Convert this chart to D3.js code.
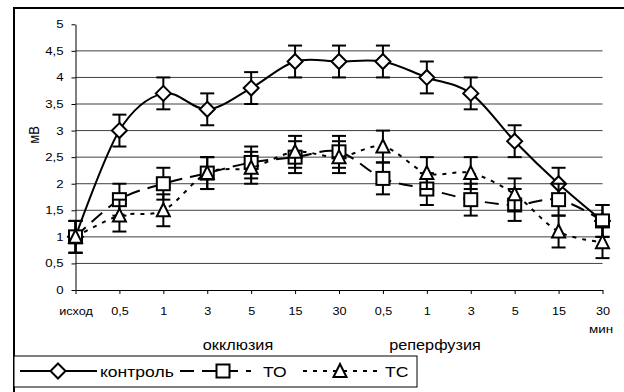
<!DOCTYPE html>
<html>
<head>
<meta charset="utf-8">
<script src="https://cdn.jsdelivr.net/npm/d3@7"></script>
<style>
  body { margin: 0; background: #fff; }
  svg { display: block; }
  text { font-family: "Liberation Sans", Arial, sans-serif; fill: #000; }
</style>
</head>
<body>
<svg id="chart" width="624" height="392"></svg>
<script>
// Time points: baseline, occlusion (min), reperfusion (min)
const categories = ["исход", "0,5", "1", "3", "5", "15", "30", "0,5", "1", "3", "5", "15", "30"];

// Amplitude, mV
const kontrol    = [1.0, 3.0, 3.7, 3.4, 3.8, 4.3, 4.3, 4.3, 4.0, 3.7, 2.8, 2.0, 1.3];
const kontrolErr = [0.3, 0.3, 0.3, 0.3, 0.3, 0.3, 0.3, 0.3, 0.3, 0.3, 0.3, 0.3, 0.3];
const seriesTO   = [1.0, 1.7, 2.0, 2.2, 2.4, 2.5, 2.6, 2.1, 1.9, 1.7, 1.6, 1.7, 1.3];
const errTO      = [0.3, 0.3, 0.3, 0.3, 0.3, 0.3, 0.3, 0.3, 0.3, 0.3, 0.3, 0.3, 0.3];
const seriesTC   = [1.0, 1.4, 1.5, 2.2, 2.3, 2.6, 2.5, 2.7, 2.2, 2.2, 1.8, 1.1, 0.9];
const errTC      = [0.3, 0.3, 0.3, 0.3, 0.3, 0.3, 0.3, 0.3, 0.3, 0.3, 0.3, 0.3, 0.3];

const yTickValues = [0, 0.5, 1, 1.5, 2, 2.5, 3, 3.5, 4, 4.5, 5];
const yTickLabels = ["0", "0,5", "1", "1,5", "2", "2,5", "3", "3,5", "4", "4,5", "5"];
const gridValues  = [0.5, 1, 1.5, 2, 2.5, 3, 3.5, 4, 4.5];

const series = [
  { name: "контроль", values: kontrol,  err: kontrolErr, marker: "diamond",  dash: null },
  { name: "ТО",       values: seriesTO, err: errTO,      marker: "square",   dash: "14,8" },
  { name: "ТС",       values: seriesTC, err: errTC,      marker: "triangle", dash: "4,6" }
];

const svg = d3.select("#chart");

const x = d3.scalePoint()
  .domain(d3.range(categories.length))
  .range([75.5, 602.5])
  .padding(0);

const y = d3.scaleLinear().domain([0, 5]).range([290, 24.3]);

// Text with a slightly wide face, stretched around its anchor point
function label(px, py, str, size, sx, anchor) {
  return svg.append("text")
    .attr("transform", `translate(${px},${py}) scale(${sx},1)`)
    .attr("text-anchor", anchor || "middle")
    .attr("font-size", size)
    .text(str);
}

// Outer frame
svg.append("rect")
  .attr("x", 14).attr("y", 8)
  .attr("width", 700).attr("height", 500)
  .attr("fill", "none").attr("stroke", "#000").attr("stroke-width", 2);

// Gridlines
svg.append("g").selectAll("line")
  .data(gridValues)
  .join("line")
  .attr("x1", x(0)).attr("x2", x(categories.length - 1))
  .attr("y1", d => y(d)).attr("y2", d => y(d))
  .attr("stroke", "#404040").attr("stroke-width", 1);

// Y axis
const yAxis = d3.axisLeft(y)
  .tickValues(yTickValues)
  .tickFormat((d, i) => yTickLabels[i])
  .tickSizeInner(4).tickSizeOuter(0).tickPadding(6);
const gy = svg.append("g").attr("transform", `translate(${x(0)},0)`).call(yAxis);
gy.selectAll("text")
  .attr("font-size", 11)
  .attr("font-family", "Liberation Sans, Arial, sans-serif")
  .attr("transform", "scale(1.2,1)");
gy.selectAll("line, path").attr("stroke", "#000");

// X axis
const xAxis = d3.axisBottom(x)
  .tickFormat(i => categories[i])
  .tickSizeInner(4).tickSizeOuter(0).tickPadding(13);
const gx = svg.append("g").attr("transform", `translate(0,${y(0)})`).call(xAxis);
gx.selectAll("text")
  .attr("font-size", 11)
  .attr("font-family", "Liberation Sans, Arial, sans-serif")
  .attr("transform", "scale(1.15,1)");
gx.selectAll("line, path").attr("stroke", "#000");

// Axis titles
label(238, 350, "окклюзия", 14, 1.16);
label(435, 350, "реперфузия", 14, 1.16);
label(601, 333, "мин", 11, 1.22);
svg.append("text")
  .attr("transform", "translate(39,135) rotate(-90) scale(1,1.15)")
  .attr("text-anchor", "middle").attr("font-size", 13).text("мВ");

// Marker symbols
function drawMarker(g, type, cx, cy) {
  if (type === "diamond") {
    g.append("path")
      .attr("d", `M${cx},${cy - 7.5}L${cx + 7.5},${cy}L${cx},${cy + 7.5}L${cx - 7.5},${cy}Z`)
      .attr("fill", "#fff").attr("stroke", "#000").attr("stroke-width", 2);
  } else if (type === "square") {
    g.append("rect")
      .attr("x", cx - 6.5).attr("y", cy - 6.5).attr("width", 13).attr("height", 13)
      .attr("fill", "#fff").attr("stroke", "#000").attr("stroke-width", 2);
  } else {
    g.append("path")
      .attr("d", `M${cx},${cy - 7}L${cx + 6.5},${cy + 6}L${cx - 6.5},${cy + 6}Z`)
      .attr("fill", "#fff").attr("stroke", "#000").attr("stroke-width", 2);
  }
}

const line = d3.line()
  .x((d, i) => x(i))
  .y(d => y(d))
  .curve(d3.curveCardinal.tension(0));

series.forEach(s => {
  const g = svg.append("g");
  g.append("path")
    .datum(s.values)
    .attr("d", line)
    .attr("fill", "none")
    .attr("stroke", "#000")
    .attr("stroke-width", 2)
    .attr("stroke-dasharray", s.dash);

  // Error bars
  s.values.forEach((v, i) => {
    const cx = x(i);
    const top = y(v + s.err[i]), bot = y(v - s.err[i]);
    g.append("line").attr("x1", cx).attr("x2", cx).attr("y1", top).attr("y2", bot)
      .attr("stroke", "#000").attr("stroke-width", 2);
    [top, bot].forEach(yy => {
      g.append("line").attr("x1", cx - 7).attr("x2", cx + 7).attr("y1", yy).attr("y2", yy)
        .attr("stroke", "#000").attr("stroke-width", 2);
    });
  });

  s.values.forEach((v, i) => drawMarker(g, s.marker, x(i), y(v)));
});

// Legend
const legend = svg.append("g");
legend.append("rect")
  .attr("x", 14).attr("y", 356).attr("width", 403).attr("height", 31)
  .attr("fill", "#fff").attr("stroke", "#000").attr("stroke-width", 1);

const legendItems = [
  { s: series[0], x1: 20,  x2: 97,  mx: 58,  tx: 100 },
  { s: series[1], x1: 180, x2: 251, mx: 223, tx: 263 },
  { s: series[2], x1: 303, x2: 381, mx: 340, tx: 385 }
];
const ly = 371;
legendItems.forEach(it => {
  legend.append("line")
    .attr("x1", it.x1).attr("x2", it.x2).attr("y1", ly).attr("y2", ly)
    .attr("stroke", "#000").attr("stroke-width", 2)
    .attr("stroke-dasharray", it.s.dash);
  drawMarker(legend, it.s.marker, it.mx, ly);
  legend.append("text")
    .attr("transform", `translate(${it.tx},${ly + 5.5}) scale(1.17,1)`)
    .attr("font-size", 15).text(it.s.name);
});
</script>
</body>
</html>
